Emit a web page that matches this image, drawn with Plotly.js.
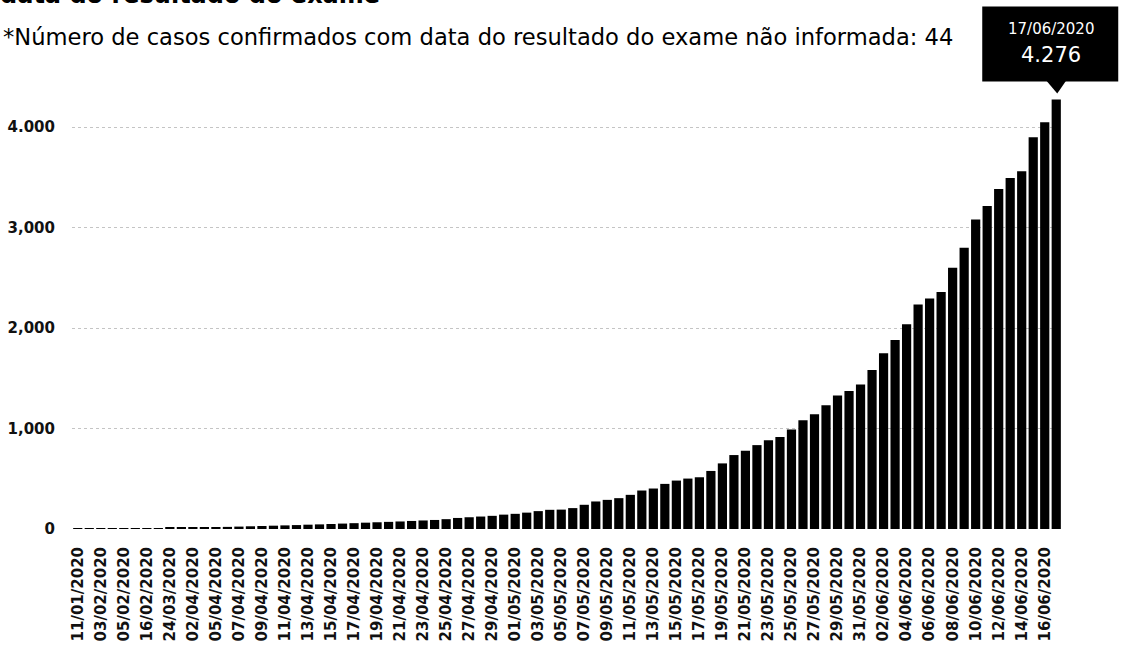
<!DOCTYPE html>
<html>
<head>
<meta charset="utf-8">
<script src="https://cdn.plot.ly/plotly-3.0.1.min.js"></script>
<style>html,body{margin:0;padding:0;background:#fff;}#chart{width:1128px;height:655px;}</style>
</head>
<body>
<div id="chart"></div>
<script>
// Dates of the exam result (category axis)
const dates = [
  "11/01/2020","27/01/2020","03/02/2020","04/02/2020","05/02/2020","14/02/2020",
  "16/02/2020","19/03/2020","24/03/2020","28/03/2020","02/04/2020","03/04/2020",
  "05/04/2020","06/04/2020","07/04/2020","08/04/2020","09/04/2020","10/04/2020",
  "11/04/2020","12/04/2020","13/04/2020","14/04/2020","15/04/2020","16/04/2020",
  "17/04/2020","18/04/2020","19/04/2020","20/04/2020","21/04/2020","22/04/2020",
  "23/04/2020","24/04/2020","25/04/2020","26/04/2020","27/04/2020","28/04/2020",
  "29/04/2020","30/04/2020","01/05/2020","02/05/2020","03/05/2020","04/05/2020",
  "05/05/2020","06/05/2020","07/05/2020","08/05/2020","09/05/2020","10/05/2020",
  "11/05/2020","12/05/2020","13/05/2020","14/05/2020","15/05/2020","16/05/2020",
  "17/05/2020","18/05/2020","19/05/2020","20/05/2020","21/05/2020","22/05/2020",
  "23/05/2020","24/05/2020","25/05/2020","26/05/2020","27/05/2020","28/05/2020",
  "29/05/2020","30/05/2020","31/05/2020","01/06/2020","02/06/2020","03/06/2020",
  "04/06/2020","05/06/2020","06/06/2020","07/06/2020","08/06/2020","09/06/2020",
  "10/06/2020","11/06/2020","12/06/2020","13/06/2020","14/06/2020","15/06/2020",
  "16/06/2020","17/06/2020"
];

// Cumulative confirmed cases
const cases = [
  1, 2, 3, 4, 5, 6,
  7, 9, 11, 13, 15, 17,
  19, 21, 24, 27, 30, 33,
  36, 39, 43, 46, 50, 54,
  58, 63, 67, 71, 75, 80,
  85, 90, 98, 110, 117, 124,
  131, 143, 151, 163, 178, 191,
  193, 208, 241, 274, 290, 307,
  340, 383, 403, 449, 482, 502,
  515, 578, 653, 736, 779, 835,
  884, 917, 990, 1082, 1142, 1231,
  1330, 1373, 1439, 1584, 1749, 1881,
  2039, 2235, 2295, 2360, 2600, 2800,
  3080, 3215, 3385, 3495, 3560, 3900,
  4050, 4276
];

// Axis ticks
const xTickDates = dates.filter((d, i) => i % 2 === 0);
const yTickValues = [0, 1000, 2000, 3000, 4000];
const yTickLabels = ["0", "1,000", "2,000", "3,000", "4.000"];

// Texts
const titleText = "data do resultado do exame";
const noteText = "*Número de casos confirmados com data do resultado do exame não informada: 44";
const tipDate = dates[dates.length - 1];
const tipValue = "4.276";

const N = dates.length;
const Y_MAX = 4370;
const anchorX = (N - 0.5) / N;
const anchorY = cases[N - 1] / Y_MAX;

const trace = {
  type: "bar",
  x: dates,
  y: cases,
  marker: { color: "#000000", line: { width: 0 } },
  hoverinfo: "x+y"
};

const layout = {
  width: 1128,
  height: 655,
  paper_bgcolor: "#ffffff",
  plot_bgcolor: "#ffffff",
  margin: { l: 72, r: 66, t: 90, b: 126 },
  bargap: 0.2,
  showlegend: false,
  font: { family: "DejaVu Sans, sans-serif", color: "#000" },
  title: {
    text: titleText,
    xref: "container", yref: "container",
    x: 0.0, xanchor: "left",
    y: 0.996, yanchor: "bottom",
    font: { family: "DejaVu Sans, sans-serif", size: 24, weight: "bold", color: "#000" }
  },
  xaxis: {
    type: "category",
    range: [-0.5, N - 0.5],
    tickmode: "array",
    tickvals: xTickDates,
    ticktext: xTickDates,
    tickangle: -90,
    ticks: "",
    showgrid: false,
    zeroline: false,
    showline: false,
    ticklabelstandoff: 14,
    tickfont: { family: "DejaVu Sans, sans-serif", size: 15, weight: "bold", color: "#111" }
  },
  yaxis: {
    range: [0, Y_MAX],
    tickmode: "array",
    tickvals: yTickValues,
    ticktext: yTickLabels,
    ticks: "",
    showgrid: true,
    gridcolor: "#c4c4c4",
    gridwidth: 1,
    griddash: "dot",
    zeroline: false,
    showline: false,
    ticklabelstandoff: 16,
    tickfont: { family: "DejaVu Sans, sans-serif", size: 15, weight: "bold", color: "#111" }
  },
  annotations: [
    {
      text: noteText,
      xref: "paper", yref: "paper",
      x: -0.0715, xanchor: "left",
      y: 1.1207, yanchor: "middle",
      showarrow: false,
      font: { family: "DejaVu Sans, sans-serif", size: 22.6, color: "#000" }
    },
    {
      text: tipDate,
      xref: "paper", yref: "paper",
      x: anchorX, y: anchorY,
      xanchor: "center", yanchor: "middle",
      xshift: -5, yshift: 70,
      showarrow: false,
      font: { family: "DejaVu Sans, sans-serif", size: 15, color: "#ffffff" }
    },
    {
      text: tipValue,
      xref: "paper", yref: "paper",
      x: anchorX, y: anchorY,
      xanchor: "center", yanchor: "middle",
      xshift: -5, yshift: 44,
      showarrow: false,
      font: { family: "DejaVu Sans, sans-serif", size: 21, color: "#ffffff" }
    }
  ],
  shapes: [
    {
      type: "rect",
      xref: "paper", yref: "paper",
      xsizemode: "pixel", ysizemode: "pixel",
      xanchor: anchorX, yanchor: anchorY,
      x0: -74, x1: 62, y0: 18, y1: 93,
      fillcolor: "#000000",
      line: { width: 0 },
      layer: "above"
    },
    {
      type: "path",
      xref: "paper", yref: "paper",
      xsizemode: "pixel", ysizemode: "pixel",
      xanchor: anchorX, yanchor: anchorY,
      path: "M -10,19 L 10,19 L 1,6 Z",
      fillcolor: "#000000",
      line: { width: 0 },
      layer: "above"
    }
  ]
};

Plotly.newPlot("chart", [trace], layout, { displayModeBar: false, responsive: false });
</script>
</body>
</html>
